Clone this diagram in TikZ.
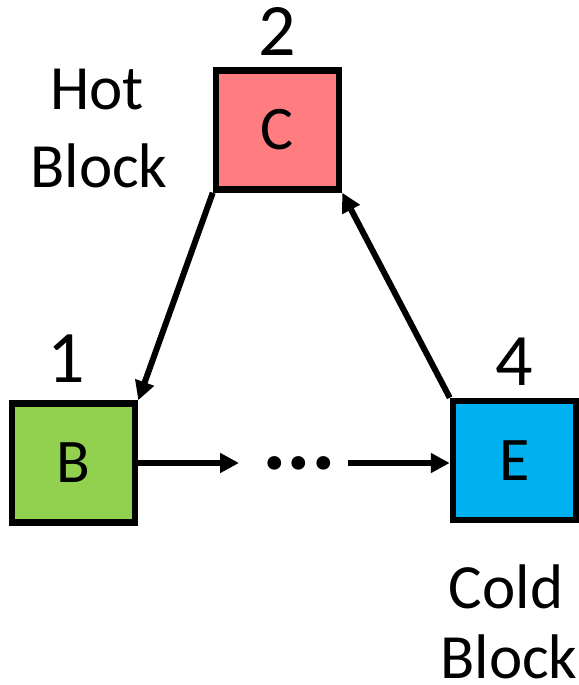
\documentclass[tikz,border=0pt]{standalone}
\usepackage{fontspec}
\setmainfont{Carlito}
\usetikzlibrary{arrows.meta,shadows}

\definecolor{hotred}{HTML}{FF7C80}
\definecolor{leafgreen}{HTML}{92D050}
\definecolor{coldblue}{HTML}{00B0F0}

\tikzset{
  block/.style={draw=black, line width=6.5pt, minimum width=123pt, minimum height=119pt,
    inner sep=0pt, font=\fontsize{62}{62}\selectfont,
    drop shadow={opacity=0.25, shadow xshift=3pt, shadow yshift=-3pt}},
  idx/.style={font=\fontsize{74}{74}\selectfont, inner sep=0pt},
  note/.style={font=\fontsize{63}{63}\selectfont, inner sep=0pt, anchor=base, text depth=0pt},
  arr/.style={line width=6pt, -{Triangle[length=19pt,width=19pt]}},
}

\begin{document}
\begin{tikzpicture}[x=1pt,y=-1pt]
  \useasboundingbox (0,0) rectangle (578,685);

  % the three blocks
  \node[block, fill=hotred]    (C) at (277.5,130) {C};
  \node[block, fill=leafgreen] (B) at (73.5,463)  {B};
  \node[block, fill=coldblue]  (E) at (514.5,460.5) {E};

  % block indices
  \node[idx] (nC) at (277,31)  {2};
  \node[idx] (nB) at (66,359)  {1};
  \node[idx] (nE) at (514,362) {4};

  % side notes, one line per node, placed on their baselines
  \node[note] (hot1)  at (97,109)  {Hot};
  \node[note] (hot2)  at (99,187)  {Block};
  \node[note] (cold1) at (506,608) {Cold};
  \node[note] (cold2) at (509,678) {Block};

  % elided chain between B and E
  \node[inner sep=0pt, font=\fontsize{92}{92}\bfseries\selectfont] (dots) at (299,463) {...};

  % connectors
  \coordinate (d1) at (239,463);
  \coordinate (d2) at (348,463);
  \draw[arr] (C.south west) -- (B.north east);
  \draw[arr] (E.north west) -- (C.south east);
  \draw[arr] (B.east |- d1) -- (d1);
  \draw[arr] (d2) -- (E.west |- d2);
\end{tikzpicture}
\end{document}
